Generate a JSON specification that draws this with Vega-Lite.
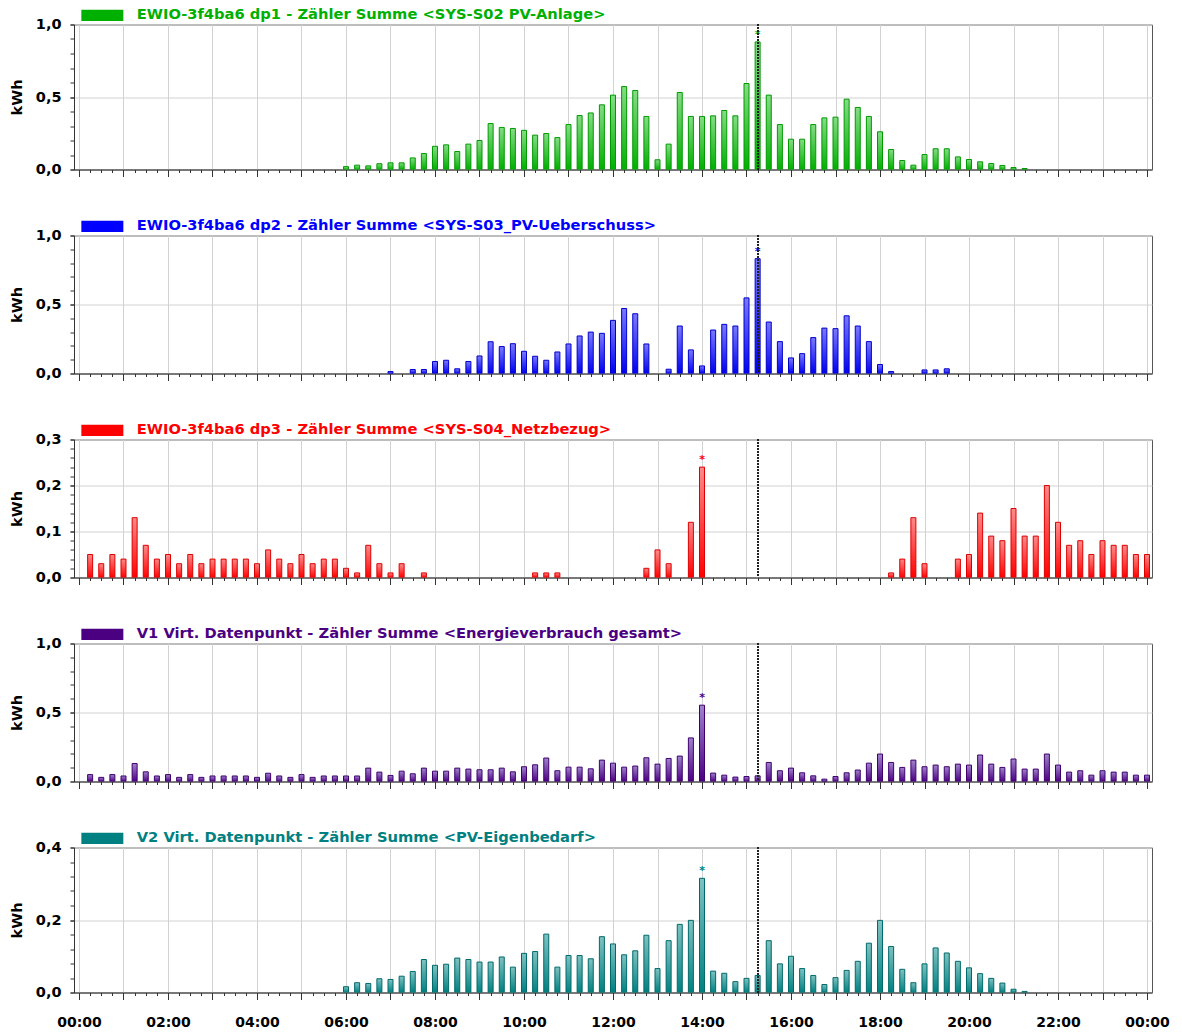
{
"$schema": "https://vega.github.io/schema/vega-lite/v6.json",
"padding": {"left": 8, "top": 7.5, "right": 2, "bottom": 2},
"data": {"values": [
{"h":0.25,"netz":0.05,"verb":0.05},
{"h":0.5,"netz":0.03,"verb":0.03},
{"h":0.75,"netz":0.05,"verb":0.05},
{"h":1,"netz":0.04,"verb":0.04},
{"h":1.25,"netz":0.13,"verb":0.13},
{"h":1.5,"netz":0.07,"verb":0.07},
{"h":1.75,"netz":0.04,"verb":0.04},
{"h":2,"netz":0.05,"verb":0.05},
{"h":2.25,"netz":0.03,"verb":0.03},
{"h":2.5,"netz":0.05,"verb":0.05},
{"h":2.75,"netz":0.03,"verb":0.03},
{"h":3,"netz":0.04,"verb":0.04},
{"h":3.25,"netz":0.04,"verb":0.04},
{"h":3.5,"netz":0.04,"verb":0.04},
{"h":3.75,"netz":0.04,"verb":0.04},
{"h":4,"netz":0.03,"verb":0.03},
{"h":4.25,"netz":0.06,"verb":0.06},
{"h":4.5,"netz":0.04,"verb":0.04},
{"h":4.75,"netz":0.03,"verb":0.03},
{"h":5,"netz":0.05,"verb":0.05},
{"h":5.25,"netz":0.03,"verb":0.03},
{"h":5.5,"netz":0.04,"verb":0.04},
{"h":5.75,"netz":0.04,"verb":0.04},
{"h":6,"pv":0.02,"netz":0.02,"verb":0.04,"eigen":0.016},
{"h":6.25,"pv":0.03,"netz":0.01,"verb":0.04,"eigen":0.027},
{"h":6.5,"pv":0.025,"netz":0.07,"verb":0.097,"eigen":0.025},
{"h":6.75,"pv":0.04,"netz":0.03,"verb":0.068,"eigen":0.038},
{"h":7,"pv":0.046,"ue":0.014,"netz":0.01,"verb":0.044,"eigen":0.036},
{"h":7.25,"pv":0.046,"netz":0.03,"verb":0.075,"eigen":0.045},
{"h":7.5,"pv":0.08,"ue":0.029,"verb":0.056,"eigen":0.058},
{"h":7.75,"pv":0.11,"ue":0.029,"netz":0.01,"verb":0.097,"eigen":0.091},
{"h":8,"pv":0.16,"ue":0.087,"verb":0.075,"eigen":0.075},
{"h":8.25,"pv":0.17,"ue":0.096,"verb":0.075,"eigen":0.078},
{"h":8.5,"pv":0.124,"ue":0.034,"verb":0.097,"eigen":0.095},
{"h":8.75,"pv":0.175,"ue":0.087,"verb":0.09,"eigen":0.091},
{"h":9,"pv":0.2,"ue":0.127,"verb":0.085,"eigen":0.084},
{"h":9.25,"pv":0.317,"ue":0.23,"verb":0.085,"eigen":0.084},
{"h":9.5,"pv":0.29,"ue":0.195,"verb":0.097,"eigen":0.098},
{"h":9.75,"pv":0.283,"ue":0.216,"verb":0.07,"eigen":0.07},
{"h":10,"pv":0.27,"ue":0.161,"verb":0.107,"eigen":0.108},
{"h":10.25,"pv":0.237,"ue":0.125,"netz":0.01,"verb":0.121,"eigen":0.113},
{"h":10.5,"pv":0.248,"ue":0.096,"netz":0.01,"verb":0.17,"eigen":0.161},
{"h":10.75,"pv":0.22,"ue":0.156,"netz":0.01,"verb":0.078,"eigen":0.07},
{"h":11,"pv":0.31,"ue":0.214,"verb":0.104,"eigen":0.102},
{"h":11.25,"pv":0.372,"ue":0.272,"verb":0.104,"eigen":0.102},
{"h":11.5,"pv":0.39,"ue":0.3,"verb":0.092,"eigen":0.093},
{"h":11.75,"pv":0.446,"ue":0.291,"verb":0.155,"eigen":0.154},
{"h":12,"pv":0.513,"ue":0.385,"verb":0.133,"eigen":0.134},
{"h":12.25,"pv":0.572,"ue":0.471,"verb":0.104,"eigen":0.104},
{"h":12.5,"pv":0.545,"ue":0.433,"verb":0.112,"eigen":0.115},
{"h":12.75,"pv":0.366,"ue":0.214,"netz":0.02,"verb":0.172,"eigen":0.158},
{"h":13,"pv":0.067,"netz":0.06,"verb":0.126,"eigen":0.066},
{"h":13.25,"pv":0.175,"ue":0.031,"netz":0.03,"verb":0.167,"eigen":0.143},
{"h":13.5,"pv":0.531,"ue":0.344,"verb":0.184,"eigen":0.188},
{"h":13.75,"pv":0.366,"ue":0.171,"netz":0.12,"verb":0.316,"eigen":0.199},
{"h":14,"pv":0.366,"ue":0.055,"netz":0.24,"verb":0.553,"eigen":0.315},
{"h":14.25,"pv":0.37,"ue":0.315,"verb":0.061,"eigen":0.059},
{"h":14.5,"pv":0.407,"ue":0.356,"verb":0.046,"eigen":0.053},
{"h":14.75,"pv":0.37,"ue":0.344,"verb":0.032,"eigen":0.03},
{"h":15,"pv":0.593,"ue":0.548,"verb":0.036,"eigen":0.039},
{"h":15.25,"pv":0.88,"ue":0.832,"verb":0.041,"eigen":0.047},
{"h":15.5,"pv":0.513,"ue":0.373,"verb":0.138,"eigen":0.143},
{"h":15.75,"pv":0.31,"ue":0.231,"verb":0.078,"eigen":0.079},
{"h":16,"pv":0.209,"ue":0.113,"verb":0.097,"eigen":0.1},
{"h":16.25,"pv":0.209,"ue":0.144,"verb":0.063,"eigen":0.066},
{"h":16.5,"pv":0.31,"ue":0.26,"verb":0.041,"eigen":0.047},
{"h":16.75,"pv":0.356,"ue":0.329,"verb":0.017,"eigen":0.022},
{"h":17,"pv":0.361,"ue":0.325,"verb":0.036,"eigen":0.041},
{"h":17.25,"pv":0.485,"ue":0.418,"verb":0.063,"eigen":0.061},
{"h":17.5,"pv":0.428,"ue":0.344,"verb":0.083,"eigen":0.086},
{"h":17.75,"pv":0.366,"ue":0.231,"verb":0.133,"eigen":0.136},
{"h":18,"pv":0.26,"ue":0.065,"verb":0.199,"eigen":0.199},
{"h":18.25,"pv":0.138,"ue":0.014,"netz":0.01,"verb":0.138,"eigen":0.127},
{"h":18.5,"pv":0.062,"netz":0.04,"verb":0.102,"eigen":0.064},
{"h":18.75,"pv":0.03,"netz":0.13,"verb":0.155,"eigen":0.027},
{"h":19,"pv":0.103,"ue":0.026,"netz":0.03,"verb":0.107,"eigen":0.079},
{"h":19.25,"pv":0.143,"ue":0.026,"verb":0.119,"eigen":0.123},
{"h":19.5,"pv":0.143,"ue":0.034,"verb":0.107,"eigen":0.109},
{"h":19.75,"pv":0.087,"netz":0.04,"verb":0.126,"eigen":0.086},
{"h":20,"pv":0.069,"netz":0.05,"verb":0.119,"eigen":0.068},
{"h":20.25,"pv":0.053,"netz":0.14,"verb":0.192,"eigen":0.052},
{"h":20.5,"pv":0.041,"netz":0.09,"verb":0.126,"eigen":0.039},
{"h":20.75,"pv":0.028,"netz":0.08,"verb":0.102,"eigen":0.026},
{"h":21,"pv":0.014,"netz":0.15,"verb":0.163,"eigen":0.009},
{"h":21.25,"pv":0.007,"netz":0.09,"verb":0.09,"eigen":0.003},
{"h":21.5,"netz":0.09,"verb":0.09},
{"h":21.75,"netz":0.2,"verb":0.199},
{"h":22,"netz":0.12,"verb":0.119},
{"h":22.25,"netz":0.07,"verb":0.068},
{"h":22.5,"netz":0.08,"verb":0.078},
{"h":22.75,"netz":0.05,"verb":0.046},
{"h":23,"netz":0.08,"verb":0.078},
{"h":23.25,"netz":0.07,"verb":0.068},
{"h":23.5,"netz":0.07,"verb":0.068},
{"h":23.75,"netz":0.05,"verb":0.046},
{"h":24,"netz":0.05,"verb":0.046}
]},
"bounds": "flush",
"spacing": 66,
"resolve": {"scale": {"color": "independent", "y": "independent"}, "legend": {"color": "independent"}},
"vconcat": [
{
 "width": 1078, "height": 145,
 "resolve": {"axis": {"x": "independent", "y": "independent"}},
 "layer": [
  {"mark": {"type": "bar", "width": 5, "clip": true, "strokeWidth": 1, "stroke": "#009a00",
    "color": {"gradient": "linear", "x1": 0, "y1": 0, "x2": 0, "y2": 1, "stops": [{"offset": 0, "color": "#86dc86"}, {"offset": 1, "color": "#00b000"}]}},
   "encoding": {
    "x": {"field": "h", "type": "quantitative", "scale": {"domain": [0, 24], "nice": false, "zero": false},
      "axis": {"title": null, "labels": false, "values": [0,1,2,3,4,5,6,7,8,9,10,11,12,13,14,15,16,17,18,19,20,21,22,23,24], "tickSize": 7, "gridColor": "#d2d2d2"}},
    "y": {"field": "pv", "type": "quantitative", "scale": {"domain": [0, 1], "nice": false},
      "axis": {"title": "kWh", "values": [0, 0.5, 1], "labelExpr": "replace(format(datum.value, '.1f'), '.', ',')"}}
   }},
  {"transform": [{"joinaggregate": [{"op": "max", "field": "pv", "as": "mx"}]}, {"filter": "datum.pv == datum.mx"}],
   "mark": {"type": "text", "text": "*", "dy": -7, "fontSize": 11, "fontWeight": "bold"},
   "encoding": {
    "x": {"field": "h", "type": "quantitative",
      "axis": {"title": null, "orient": "bottom", "labels": false, "domain": false, "tickSize": 3, "gridColor": "#d9d9d9", "gridDash": [2, 2],
        "values": [0,0.25,0.5,0.75,1,1.25,1.5,1.75,2,2.25,2.5,2.75,3,3.25,3.5,3.75,4,4.25,4.5,4.75,5,5.25,5.5,5.75,6,6.25,6.5,6.75,7,7.25,7.5,7.75,8,8.25,8.5,8.75,9,9.25,9.5,9.75,10,10.25,10.5,10.75,11,11.25,11.5,11.75,12,12.25,12.5,12.75,13,13.25,13.5,13.75,14,14.25,14.5,14.75,15,15.25,15.5,15.75,16,16.25,16.5,16.75,17,17.25,17.5,17.75,18,18.25,18.5,18.75,19,19.25,19.5,19.75,20,20.25,20.5,20.75,21,21.25,21.5,21.75,22,22.25,22.5,22.75,23,23.25,23.5,23.75,24]}},
    "y": {"field": "pv", "type": "quantitative",
      "axis": {"title": null, "orient": "left", "labels": false, "domain": false, "grid": false, "values": [0,0.1,0.2,0.3,0.4,0.5,0.6,0.7,0.8,0.9,1]}},
    "color": {"datum": "EWIO-3f4ba6 dp1 - Zähler Summe <SYS-S02 PV-Anlage>", "scale": {"range": ["#00b000"]},
      "legend": {"labelColor": "#00b000"}}
   }},
  {"mark": {"type": "rule", "strokeDash": [1.5, 1.5], "color": "#222", "strokeWidth": 1},
   "encoding": {"x": {"datum": 15.25, "type": "quantitative", "axis": null}}}
 ]
},
{
 "width": 1078, "height": 138,
 "resolve": {"axis": {"x": "independent", "y": "independent"}},
 "layer": [
  {"mark": {"type": "bar", "width": 5, "clip": true, "strokeWidth": 1, "stroke": "#0000cc",
    "color": {"gradient": "linear", "x1": 0, "y1": 0, "x2": 0, "y2": 1, "stops": [{"offset": 0, "color": "#7a7aff"}, {"offset": 1, "color": "#0000f0"}]}},
   "encoding": {
    "x": {"field": "h", "type": "quantitative", "scale": {"domain": [0, 24], "nice": false, "zero": false},
      "axis": {"title": null, "labels": false, "values": [0,1,2,3,4,5,6,7,8,9,10,11,12,13,14,15,16,17,18,19,20,21,22,23,24], "tickSize": 7, "gridColor": "#d2d2d2"}},
    "y": {"field": "ue", "type": "quantitative", "scale": {"domain": [0, 1], "nice": false},
      "axis": {"title": "kWh", "values": [0, 0.5, 1], "labelExpr": "replace(format(datum.value, '.1f'), '.', ',')"}}
   }},
  {"transform": [{"joinaggregate": [{"op": "max", "field": "ue", "as": "mx"}]}, {"filter": "datum.ue == datum.mx"}],
   "mark": {"type": "text", "text": "*", "dy": -7, "fontSize": 11, "fontWeight": "bold"},
   "encoding": {
    "x": {"field": "h", "type": "quantitative",
      "axis": {"title": null, "orient": "bottom", "labels": false, "domain": false, "tickSize": 3, "gridColor": "#d9d9d9", "gridDash": [2, 2],
        "values": [0,0.25,0.5,0.75,1,1.25,1.5,1.75,2,2.25,2.5,2.75,3,3.25,3.5,3.75,4,4.25,4.5,4.75,5,5.25,5.5,5.75,6,6.25,6.5,6.75,7,7.25,7.5,7.75,8,8.25,8.5,8.75,9,9.25,9.5,9.75,10,10.25,10.5,10.75,11,11.25,11.5,11.75,12,12.25,12.5,12.75,13,13.25,13.5,13.75,14,14.25,14.5,14.75,15,15.25,15.5,15.75,16,16.25,16.5,16.75,17,17.25,17.5,17.75,18,18.25,18.5,18.75,19,19.25,19.5,19.75,20,20.25,20.5,20.75,21,21.25,21.5,21.75,22,22.25,22.5,22.75,23,23.25,23.5,23.75,24]}},
    "y": {"field": "ue", "type": "quantitative",
      "axis": {"title": null, "orient": "left", "labels": false, "domain": false, "grid": false, "values": [0,0.1,0.2,0.3,0.4,0.5,0.6,0.7,0.8,0.9,1]}},
    "color": {"datum": "EWIO-3f4ba6 dp2 - Zähler Summe <SYS-S03_PV-Ueberschuss>", "scale": {"range": ["#0000ff"]},
      "legend": {"labelColor": "#0000ff"}}
   }},
  {"mark": {"type": "rule", "strokeDash": [1.5, 1.5], "color": "#222", "strokeWidth": 1},
   "encoding": {"x": {"datum": 15.25, "type": "quantitative", "axis": null}}}
 ]
},
{
 "width": 1078, "height": 138,
 "resolve": {"axis": {"x": "independent", "y": "independent"}},
 "layer": [
  {"mark": {"type": "bar", "width": 5, "clip": true, "strokeWidth": 1, "stroke": "#dd0000",
    "color": {"gradient": "linear", "x1": 0, "y1": 0, "x2": 0, "y2": 1, "stops": [{"offset": 0, "color": "#ff8a8a"}, {"offset": 1, "color": "#ff0000"}]}},
   "encoding": {
    "x": {"field": "h", "type": "quantitative", "scale": {"domain": [0, 24], "nice": false, "zero": false},
      "axis": {"title": null, "labels": false, "values": [0,1,2,3,4,5,6,7,8,9,10,11,12,13,14,15,16,17,18,19,20,21,22,23,24], "tickSize": 7, "gridColor": "#d2d2d2"}},
    "y": {"field": "netz", "type": "quantitative", "scale": {"domain": [0, 0.3], "nice": false},
      "axis": {"title": "kWh", "values": [0, 0.1, 0.2, 0.3], "labelExpr": "replace(format(datum.value, '.1f'), '.', ',')"}}
   }},
  {"transform": [{"joinaggregate": [{"op": "max", "field": "netz", "as": "mx"}]}, {"filter": "datum.netz == datum.mx"}],
   "mark": {"type": "text", "text": "*", "dy": -7, "fontSize": 11, "fontWeight": "bold"},
   "encoding": {
    "x": {"field": "h", "type": "quantitative",
      "axis": {"title": null, "orient": "bottom", "labels": false, "domain": false, "tickSize": 3, "gridColor": "#d9d9d9", "gridDash": [2, 2],
        "values": [0,0.25,0.5,0.75,1,1.25,1.5,1.75,2,2.25,2.5,2.75,3,3.25,3.5,3.75,4,4.25,4.5,4.75,5,5.25,5.5,5.75,6,6.25,6.5,6.75,7,7.25,7.5,7.75,8,8.25,8.5,8.75,9,9.25,9.5,9.75,10,10.25,10.5,10.75,11,11.25,11.5,11.75,12,12.25,12.5,12.75,13,13.25,13.5,13.75,14,14.25,14.5,14.75,15,15.25,15.5,15.75,16,16.25,16.5,16.75,17,17.25,17.5,17.75,18,18.25,18.5,18.75,19,19.25,19.5,19.75,20,20.25,20.5,20.75,21,21.25,21.5,21.75,22,22.25,22.5,22.75,23,23.25,23.5,23.75,24]}},
    "y": {"field": "netz", "type": "quantitative",
      "axis": {"title": null, "orient": "left", "labels": false, "domain": false, "grid": false, "values": [0,0.02,0.04,0.06,0.08,0.1,0.12,0.14,0.16,0.18,0.2,0.22,0.24,0.26,0.28,0.3]}},
    "color": {"datum": "EWIO-3f4ba6 dp3 - Zähler Summe <SYS-S04_Netzbezug>", "scale": {"range": ["#ff0000"]},
      "legend": {"labelColor": "#ff0000"}}
   }},
  {"mark": {"type": "rule", "strokeDash": [1.5, 1.5], "color": "#222", "strokeWidth": 1},
   "encoding": {"x": {"datum": 15.25, "type": "quantitative", "axis": null}}}
 ]
},
{
 "width": 1078, "height": 138,
 "resolve": {"axis": {"x": "independent", "y": "independent"}},
 "layer": [
  {"mark": {"type": "bar", "width": 5, "clip": true, "strokeWidth": 1, "stroke": "#3f006e",
    "color": {"gradient": "linear", "x1": 0, "y1": 0, "x2": 0, "y2": 1, "stops": [{"offset": 0, "color": "#a084cc"}, {"offset": 1, "color": "#4b0082"}]}},
   "encoding": {
    "x": {"field": "h", "type": "quantitative", "scale": {"domain": [0, 24], "nice": false, "zero": false},
      "axis": {"title": null, "labels": false, "values": [0,1,2,3,4,5,6,7,8,9,10,11,12,13,14,15,16,17,18,19,20,21,22,23,24], "tickSize": 7, "gridColor": "#d2d2d2"}},
    "y": {"field": "verb", "type": "quantitative", "scale": {"domain": [0, 1], "nice": false},
      "axis": {"title": "kWh", "values": [0, 0.5, 1], "labelExpr": "replace(format(datum.value, '.1f'), '.', ',')"}}
   }},
  {"transform": [{"joinaggregate": [{"op": "max", "field": "verb", "as": "mx"}]}, {"filter": "datum.verb == datum.mx"}],
   "mark": {"type": "text", "text": "*", "dy": -7, "fontSize": 11, "fontWeight": "bold"},
   "encoding": {
    "x": {"field": "h", "type": "quantitative",
      "axis": {"title": null, "orient": "bottom", "labels": false, "domain": false, "tickSize": 3, "gridColor": "#d9d9d9", "gridDash": [2, 2],
        "values": [0,0.25,0.5,0.75,1,1.25,1.5,1.75,2,2.25,2.5,2.75,3,3.25,3.5,3.75,4,4.25,4.5,4.75,5,5.25,5.5,5.75,6,6.25,6.5,6.75,7,7.25,7.5,7.75,8,8.25,8.5,8.75,9,9.25,9.5,9.75,10,10.25,10.5,10.75,11,11.25,11.5,11.75,12,12.25,12.5,12.75,13,13.25,13.5,13.75,14,14.25,14.5,14.75,15,15.25,15.5,15.75,16,16.25,16.5,16.75,17,17.25,17.5,17.75,18,18.25,18.5,18.75,19,19.25,19.5,19.75,20,20.25,20.5,20.75,21,21.25,21.5,21.75,22,22.25,22.5,22.75,23,23.25,23.5,23.75,24]}},
    "y": {"field": "verb", "type": "quantitative",
      "axis": {"title": null, "orient": "left", "labels": false, "domain": false, "grid": false, "values": [0,0.1,0.2,0.3,0.4,0.5,0.6,0.7,0.8,0.9,1]}},
    "color": {"datum": "V1 Virt. Datenpunkt - Zähler Summe  <Energieverbrauch gesamt>", "scale": {"range": ["#4b0082"]},
      "legend": {"labelColor": "#4b0082"}}
   }},
  {"mark": {"type": "rule", "strokeDash": [1.5, 1.5], "color": "#222", "strokeWidth": 1},
   "encoding": {"x": {"datum": 15.25, "type": "quantitative", "axis": null}}}
 ]
},
{
 "width": 1078, "height": 145,
 "resolve": {"axis": {"x": "independent", "y": "independent"}},
 "layer": [
  {"mark": {"type": "bar", "width": 5, "clip": true, "strokeWidth": 1, "stroke": "#006a6a",
    "color": {"gradient": "linear", "x1": 0, "y1": 0, "x2": 0, "y2": 1, "stops": [{"offset": 0, "color": "#80c2c2"}, {"offset": 1, "color": "#008080"}]}},
   "encoding": {
    "x": {"field": "h", "type": "quantitative", "scale": {"domain": [0, 24], "nice": false, "zero": false},
      "axis": {"title": null, "labels": true, "values": [0,1,2,3,4,5,6,7,8,9,10,11,12,13,14,15,16,17,18,19,20,21,22,23,24], "tickSize": 7, "gridColor": "#d2d2d2",
        "labelExpr": "datum.value % 2 == 0 ? ((datum.value % 24) < 10 ? '0' : '') + (datum.value % 24) + ':00' : ''",
        "labelOverlap": false, "labelFlush": false, "labelPadding": 16, "labelFontSize": 14}},
    "y": {"field": "eigen", "type": "quantitative", "scale": {"domain": [0, 0.4], "nice": false},
      "axis": {"title": "kWh", "values": [0, 0.2, 0.4], "labelExpr": "replace(format(datum.value, '.1f'), '.', ',')"}}
   }},
  {"transform": [{"joinaggregate": [{"op": "max", "field": "eigen", "as": "mx"}]}, {"filter": "datum.eigen == datum.mx"}],
   "mark": {"type": "text", "text": "*", "dy": -7, "fontSize": 11, "fontWeight": "bold"},
   "encoding": {
    "x": {"field": "h", "type": "quantitative",
      "axis": {"title": null, "orient": "bottom", "labels": false, "domain": false, "tickSize": 3, "gridColor": "#d9d9d9", "gridDash": [2, 2],
        "values": [0,0.25,0.5,0.75,1,1.25,1.5,1.75,2,2.25,2.5,2.75,3,3.25,3.5,3.75,4,4.25,4.5,4.75,5,5.25,5.5,5.75,6,6.25,6.5,6.75,7,7.25,7.5,7.75,8,8.25,8.5,8.75,9,9.25,9.5,9.75,10,10.25,10.5,10.75,11,11.25,11.5,11.75,12,12.25,12.5,12.75,13,13.25,13.5,13.75,14,14.25,14.5,14.75,15,15.25,15.5,15.75,16,16.25,16.5,16.75,17,17.25,17.5,17.75,18,18.25,18.5,18.75,19,19.25,19.5,19.75,20,20.25,20.5,20.75,21,21.25,21.5,21.75,22,22.25,22.5,22.75,23,23.25,23.5,23.75,24]}},
    "y": {"field": "eigen", "type": "quantitative",
      "axis": {"title": null, "orient": "left", "labels": false, "domain": false, "grid": false, "values": [0,0.04,0.08,0.12,0.16,0.2,0.24,0.28,0.32,0.36,0.4]}},
    "color": {"datum": "V2 Virt. Datenpunkt - Zähler Summe  <PV-Eigenbedarf>", "scale": {"range": ["#008080"]},
      "legend": {"labelColor": "#008080"}}
   }},
  {"mark": {"type": "rule", "strokeDash": [1.5, 1.5], "color": "#222", "strokeWidth": 1},
   "encoding": {"x": {"datum": 15.25, "type": "quantitative", "axis": null}}}
 ]
}
],
"config": {
 "font": "DejaVu Sans",
 "view": {"stroke": "#555", "strokeWidth": 1},
 "axis": {"domainColor": "#333", "tickColor": "#333", "grid": true, "gridColor": "#d2d2d2",
   "labelFont": "DejaVu Sans", "labelFontWeight": "bold", "labelFontSize": 14.5, "labelColor": "#000",
   "titleFont": "DejaVu Sans", "titleFontWeight": "bold", "titleFontSize": 14.5, "titleColor": "#000"},
 "axisY": {"tickSize": 4, "labelPadding": 9, "titlePadding": 11},
 "legend": {"orient": "none", "legendX": 21, "legendY": -16.5, "title": null,
   "symbolType": "M-3,-0.81L3,-0.81L3,0.81L-3,0.81Z", "symbolSize": 196, "symbolStrokeWidth": 0,
   "labelFont": "DejaVu Sans", "labelFontSize": 14.7, "labelFontWeight": "bold", "labelLimit": 1000, "labelOffset": 27}
}
}
